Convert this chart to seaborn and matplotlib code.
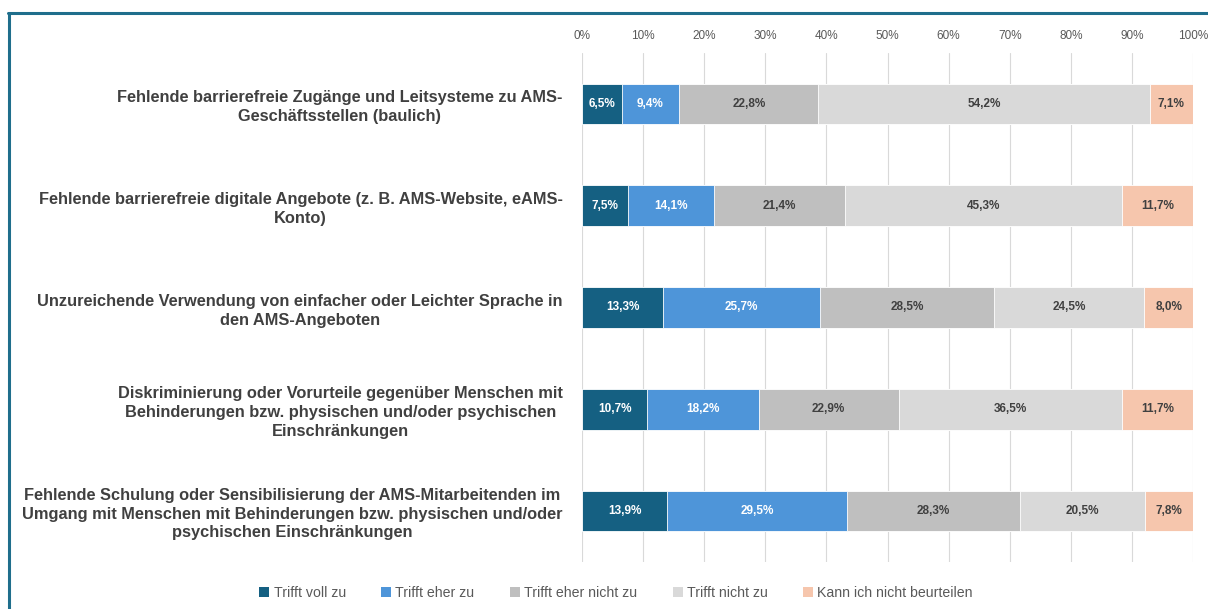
import matplotlib
matplotlib.use("Agg")
import matplotlib.pyplot as plt
import seaborn as sns
import numpy as np
import pandas as pd
from matplotlib.lines import Line2D
from matplotlib.patches import Patch

categories = [
    "Fehlende barrierefreie Zugänge und Leitsysteme zu AMS-\nGeschäftsstellen (baulich)",
    "Fehlende barrierefreie digitale Angebote (z. B. AMS-Website, eAMS-\nKonto)",
    "Unzureichende Verwendung von einfacher oder Leichter Sprache in\nden AMS-Angeboten",
    "Diskriminierung oder Vorurteile gegenüber Menschen mit\nBehinderungen bzw. physischen und/oder psychischen\nEinschränkungen",
    "Fehlende Schulung oder Sensibilisierung der AMS-Mitarbeitenden im\nUmgang mit Menschen mit Behinderungen bzw. physischen und/oder\npsychischen Einschränkungen",
]
series_names = ["Trifft voll zu", "Trifft eher zu", "Trifft eher nicht zu",
                "Trifft nicht zu", "Kann ich nicht beurteilen"]
trifft_voll = [6.5, 7.5, 13.3, 10.7, 13.9]
trifft_eher = [9.4, 14.1, 25.7, 18.2, 29.5]
eher_nicht = [22.8, 21.4, 28.5, 22.9, 28.3]
nicht_zu = [54.2, 45.3, 24.5, 36.5, 20.5]
kann_nicht = [7.1, 11.7, 8.0, 11.7, 7.8]
tick_values = [0, 10, 20, 30, 40, 50, 60, 70, 80, 90, 100]

colors = ["#156082", "#4E95D9", "#BFBFBF", "#D9D9D9", "#F6C6AD"]
label_colors = ["white", "white", "#404040", "#404040", "#404040"]

series = [trifft_voll, trifft_eher, eher_nicht, nicht_zu, kann_nicht]
vals = np.array(series)
cum = np.cumsum(vals, axis=0)

sns.set_theme(style="white")
plt.rcParams['font.family'] = ['Liberation Sans', 'DejaVu Sans']

fig = plt.figure(figsize=(12.08, 6.09), dpi=100)
ax = fig.add_axes([0.4818, 0.0772, 0.5058, 0.8358])

for i in range(len(series) - 1, -1, -1):
    df = pd.DataFrame({"cat": categories, "val": cum[i]})
    sns.barplot(data=df, x="val", y="cat", orient="h", color=colors[i],
                width=0.4, edgecolor="white", linewidth=0.6, ax=ax,
                saturation=1, zorder=3)

for i in range(len(series)):
    for j in range(len(categories)):
        v = vals[i, j]
        center = cum[i, j] - v / 2
        ax.text(center, j, f"{v:.1f}%".replace(".", ","), ha="center", va="center",
                fontsize=8.5, fontweight="bold", color=label_colors[i], zorder=5)

ax.set_xlim(0, 100)
ax.set_ylim(len(categories) - 0.5, -0.5)
ax.set_xticks(tick_values)
ax.set_xticklabels([f"{t}%" for t in tick_values])
ax.xaxis.tick_top()
ax.tick_params(axis="x", length=0, pad=8, labelsize=8.5, labelcolor="#595959")
ax.tick_params(axis="y", length=0, pad=14, labelsize=11.8, labelcolor="#404040")
for lab in ax.get_yticklabels():
    lab.set_fontweight("bold")
    lab.set_multialignment("center")
    lab.set_linespacing(1.3)
ax.set_xlabel("")
ax.set_ylabel("")
ax.grid(axis="x", color="#D9D9D9", linewidth=0.8, zorder=0)
ax.set_axisbelow(True)
for s in ax.spines.values():
    s.set_visible(False)

handles = [Patch(facecolor=c, edgecolor="none", label=n) for c, n in zip(colors, series_names)]
leg = fig.legend(handles=handles, loc="center", bbox_to_anchor=(0.51, 0.027), ncol=5,
                 frameon=False, fontsize=10.2, handlelength=0.7, handleheight=0.7,
                 handletextpad=0.3, columnspacing=2.5)
for t in leg.get_texts():
    t.set_color("#595959")

# outer frame (left and top edges)
fig.add_artist(Line2D([0.0075, 0.0075], [0.0, 0.979], color="#1F6E8C", linewidth=2.2,
                      transform=fig.transFigure))
fig.add_artist(Line2D([0.0065, 1.0], [0.979, 0.979], color="#1F6E8C", linewidth=2.2,
                      transform=fig.transFigure))

fig.savefig("out.png", dpi=100)
